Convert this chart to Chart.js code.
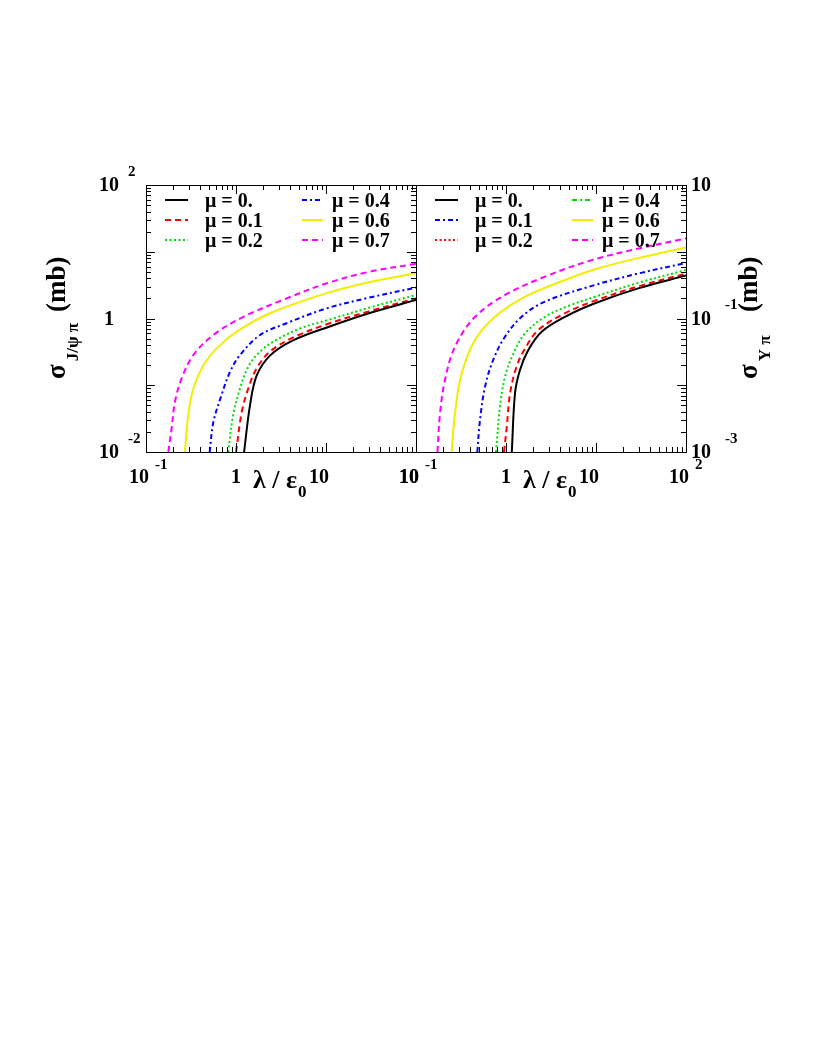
<!DOCTYPE html>
<html>
<head>
<meta charset="utf-8">
<script src="https://cdn.jsdelivr.net/npm/chart.js@4.4.1/dist/chart.umd.min.js"></script>
<style>
  html, body { margin: 0; padding: 0; background: #fff; }
  #wrap { position: relative; width: 817px; height: 1058px; }
  #wrap canvas { position: absolute; left: 0; top: 0; }
</style>
</head>
<body>
<div id="wrap">
  <canvas id="jpsi" width="817" height="520"></canvas>
  <canvas id="ups" width="817" height="520"></canvas>
</div>
<script>
// legend labels (same for both panels)
const muLabels = ['μ = 0.', 'μ = 0.1', 'μ = 0.2', 'μ = 0.4', 'μ = 0.6', 'μ = 0.7'];

// J/psi pi cross section (mb) vs lambda/eps0, one list of [lambda, sigma] per mu
const jpsiMu00 = [[1.23, 0.01], [1.43, 0.05], [1.7, 0.14], [2.4, 0.28], [4.3, 0.47], [11, 0.76], [30, 1.2], [100, 1.89]];
const jpsiMu01 = [[1.0, 0.01], [1.16, 0.04], [1.37, 0.09], [1.7, 0.18], [2.39, 0.32], [4.33, 0.52], [10.2, 0.82], [30, 1.28], [100, 2.0]];
const jpsiMu02 = [[0.82, 0.01], [0.93, 0.036], [1.11, 0.09], [1.37, 0.19], [1.85, 0.32], [2.83, 0.48], [5.14, 0.71], [11.1, 0.97], [30, 1.45], [100, 2.25]];
const jpsiMu04 = [[0.51, 0.01], [0.56, 0.028], [0.69, 0.071], [0.86, 0.16], [1.11, 0.284], [1.85, 0.566], [3.65, 0.85], [10.2, 1.42], [30, 2.05], [100, 2.9]];
const jpsiMu06 = [[0.27, 0.01], [0.295, 0.036], [0.336, 0.09], [0.434, 0.2], [0.61, 0.357], [1.02, 0.635], [2.39, 1.2], [10.2, 2.4], [30, 3.5], [100, 4.75]];
const jpsiMu07 = [[0.177, 0.01], [0.193, 0.023], [0.21, 0.057], [0.249, 0.127], [0.336, 0.284], [0.56, 0.566], [1.21, 1.06], [3.65, 2.0], [10.2, 3.37], [30, 5.0], [100, 6.6]];

// Upsilon pi cross section (mb)
const upsMu00 = [[1.16, 0.001], [1.26, 0.0076], [1.43, 0.0169], [1.77, 0.0337], [2.49, 0.0634], [4.53, 0.106], [9.75, 0.169], [30, 0.285], [100, 0.44]];
const upsMu01 = [[0.95, 0.001], [1.02, 0.0024], [1.11, 0.0076], [1.31, 0.019], [1.63, 0.0357], [2.29, 0.0673], [4.53, 0.12], [9.75, 0.185], [30, 0.305], [100, 0.47]];
const upsMu02 = [[0.775, 0.001], [0.857, 0.0048], [0.975, 0.0134], [1.21, 0.03], [1.63, 0.06], [2.71, 0.106], [4.93, 0.154], [9.75, 0.212], [30, 0.345], [100, 0.533]];
const upsMu04 = [[0.48, 0.001], [0.514, 0.003], [0.585, 0.0095], [0.72, 0.0239], [0.975, 0.0534], [1.49, 0.106], [2.71, 0.179], [9.75, 0.318], [30, 0.475], [100, 0.68]];
const upsMu06 = [[0.249, 0.001], [0.271, 0.0038], [0.322, 0.0151], [0.453, 0.0477], [0.755, 0.106], [1.63, 0.212], [4.53, 0.377], [9.75, 0.546], [30, 0.81], [100, 1.16]];
const upsMu07 = [[0.173, 0.001], [0.185, 0.0038], [0.21, 0.012], [0.271, 0.0378], [0.453, 0.106], [0.975, 0.225], [2.71, 0.423], [8.96, 0.75], [30, 1.12], [100, 1.59]];

// axis ticks and labels
const xTickValues = [0.1, 1, 10, 100];
const xTickBase = ['10', '1', '10', '10'];
const xTickExpJpsi = ['-1', '', '', ''];
const xTickExpUps = ['-1', '', '', '2'];
const yTickValuesJpsi = [100, 1, 0.01];
const yTickBaseJpsi = ['10', '1', '10'];
const yTickExpJpsi = ['2', '', '-2'];
const yTickValuesUps = [10, 0.1, 0.001];
const yTickBaseUps = ['10', '10', '10'];
const yTickExpUps = ['', '-1', '-3'];

// styles
const SOLID = [], DASHED = [6, 4], DOTTED = [2, 2.5], DASHDOT = [5, 3, 2, 3];
const curveColors = ['#000000', '#ff0000', '#00dd00', '#0000ff', '#f2ee00', '#ff00ff'];
const curveDashes = [SOLID, DASHED, DOTTED, DASHDOT, SOLID, DASHED];
// the right panel legend does not use the same styles as its curves
const upsLegendColors = ['#000000', '#0000ff', '#ff0000', '#00dd00', '#f2ee00', '#ff00ff'];
const upsLegendDashes = [SOLID, DASHDOT, DOTTED, DASHDOT, SOLID, DASHED];

const FONT = '"Liberation Serif", "DejaVu Serif", serif';

function makeSets(series) {
  return series.map((pts, i) => ({
    label: muLabels[i],
    data: pts.map(p => ({ x: p[0], y: p[1] })),
    borderColor: curveColors[i],
    borderDash: curveDashes[i],
    borderWidth: 2,
    pointRadius: 0,
    tension: 0.35,
    fill: false
  }));
}

function setFont(ctx, size) {
  ctx.font = 'bold ' + size + 'px ' + FONT;
}

// text reading bottom to top, returns its length
function rotText(ctx, s, x, y, size) {
  ctx.save();
  ctx.translate(x, y);
  ctx.rotate(-Math.PI / 2);
  setFont(ctx, size);
  ctx.textAlign = 'left';
  ctx.textBaseline = 'alphabetic';
  ctx.fillText(s, 0, 0);
  const w = ctx.measureText(s).width;
  ctx.restore();
  return w;
}

const decor = {
  id: 'decor',
  afterDatasetsDraw(chart, args, o) {
    const ctx = chart.ctx, a = chart.chartArea;
    const xs = chart.scales.x, ys = chart.scales.y;
    ctx.save();
    ctx.fillStyle = '#000';
    ctx.strokeStyle = '#000';
    ctx.lineWidth = 1;
    ctx.setLineDash([]);

    // frame
    ctx.strokeRect(a.left + 0.5, a.top + 0.5, a.right - a.left, a.bottom - a.top);

    // log ticks
    ctx.beginPath();
    for (let d = Math.round(Math.log10(xs.min)); d < Math.round(Math.log10(xs.max)) + 1; d++) {
      for (let k = 1; k <= 9; k++) {
        const v = k * Math.pow(10, d);
        if (v > xs.max * 1.0001) break;
        const px = Math.round(xs.getPixelForValue(v)) + 0.5;
        const len = k === 1 ? 9 : 5;
        ctx.moveTo(px, a.bottom); ctx.lineTo(px, a.bottom - len);
        ctx.moveTo(px, a.top); ctx.lineTo(px, a.top + len);
      }
    }
    for (let d = Math.round(Math.log10(ys.min)); d < Math.round(Math.log10(ys.max)) + 1; d++) {
      for (let k = 1; k <= 9; k++) {
        const v = k * Math.pow(10, d);
        if (v > ys.max * 1.0001) break;
        const py = Math.round(ys.getPixelForValue(v)) + 0.5;
        const len = k === 1 ? 9 : 5;
        if (o.yTicksLeft) { ctx.moveTo(a.left, py); ctx.lineTo(a.left + len, py); }
        ctx.moveTo(a.right, py); ctx.lineTo(a.right - len, py);
      }
    }
    ctx.stroke();

    // x tick labels
    xTickValues.forEach((v, i) => {
      const px = xs.getPixelForValue(v);
      const base = xTickBase[i];
      const cx = base.length > 1 ? px - 7 : px;
      setFont(ctx, 20);
      ctx.textAlign = 'center';
      ctx.textBaseline = 'middle';
      ctx.fillText(base, cx, 478);
      const w = ctx.measureText(base).width;
      if (o.xExp[i]) {
        setFont(ctx, 15);
        ctx.textAlign = 'left';
        ctx.fillText(o.xExp[i], cx + w / 2 + 6, 465);
      }
    });

    // y tick labels
    o.yVals.forEach((v, i) => {
      const py = ys.getPixelForValue(v);
      const base = o.yBase[i];
      setFont(ctx, 20);
      ctx.textBaseline = 'middle';
      let right;
      if (o.yTicksLeft) {
        ctx.textAlign = 'center';
        ctx.fillText(base, a.left - 37, py + 1);
        right = a.left - 18;
      } else {
        ctx.textAlign = 'left';
        ctx.fillText(base, a.right + 5, py + 1);
        right = a.right + 39;
      }
      if (o.yExp[i]) {
        setFont(ctx, 15);
        ctx.textAlign = 'left';
        ctx.fillText(o.yExp[i], right, py - 13);
      }
    });

    // x title
    setFont(ctx, 26);
    ctx.textAlign = 'left';
    ctx.textBaseline = 'alphabetic';
    const tx = a.left + 107;
    ctx.fillText('λ / ε', tx, 488);
    const tw = ctx.measureText('λ / ε').width;
    setFont(ctx, 17);
    ctx.fillText('0', tx + tw + 1, 497);

    // y title
    let ty = 379;
    ty -= rotText(ctx, 'σ', o.titleX, ty, 27) + 3;
    rotText(ctx, o.titleSub, o.titleX + 13, ty, 17);
    rotText(ctx, '(mb)', o.titleX, 312, 27);

    // legend, two columns of three
    muLabels.forEach((lab, i) => {
      const col = i < 3 ? 0 : 1, row = i % 3;
      const y = a.top + 15 + row * 20;
      const x0 = a.left + (col ? 156 : 19), x1 = a.left + (col ? 177 : 42);
      ctx.strokeStyle = o.legColors[i];
      ctx.setLineDash(o.legDashes[i]);
      ctx.lineWidth = 2;
      ctx.beginPath();
      ctx.moveTo(x0, y); ctx.lineTo(x1, y);
      ctx.stroke();
      ctx.setLineDash([]);
      setFont(ctx, 20);
      ctx.fillStyle = '#000';
      ctx.textAlign = 'left';
      ctx.textBaseline = 'alphabetic';
      ctx.fillText(lab, a.left + (col ? 186 : 59), y + 7);
    });
    ctx.restore();
  }
};

function makeChart(id, series, pad, yMin, yMax, deco) {
  return new Chart(document.getElementById(id), {
    type: 'line',
    data: { datasets: makeSets(series) },
    options: {
      responsive: false,
      animation: false,
      layout: { padding: pad },
      scales: {
        x: { type: 'logarithmic', min: 0.1, max: 100, display: false },
        y: { type: 'logarithmic', min: yMin, max: yMax, display: false }
      },
      plugins: { legend: { display: false }, tooltip: { enabled: false }, decor: deco }
    },
    plugins: [decor]
  });
}

makeChart('jpsi', [jpsiMu00, jpsiMu01, jpsiMu02, jpsiMu04, jpsiMu06, jpsiMu07],
  { left: 146, right: 401, top: 185, bottom: 68 }, 0.01, 100, {
    yTicksLeft: true,
    xExp: xTickExpJpsi,
    yVals: yTickValuesJpsi, yBase: yTickBaseJpsi, yExp: yTickExpJpsi,
    titleX: 65, titleSub: 'J/ψ π',
    legColors: curveColors, legDashes: curveDashes
  });

makeChart('ups', [upsMu00, upsMu01, upsMu02, upsMu04, upsMu06, upsMu07],
  { left: 416, right: 131, top: 185, bottom: 68 }, 0.001, 10, {
    yTicksLeft: false,
    xExp: xTickExpUps,
    yVals: yTickValuesUps, yBase: yTickBaseUps, yExp: yTickExpUps,
    titleX: 757, titleSub: 'Υ π',
    legColors: upsLegendColors, legDashes: upsLegendDashes
  });
</script>
</body>
</html>
